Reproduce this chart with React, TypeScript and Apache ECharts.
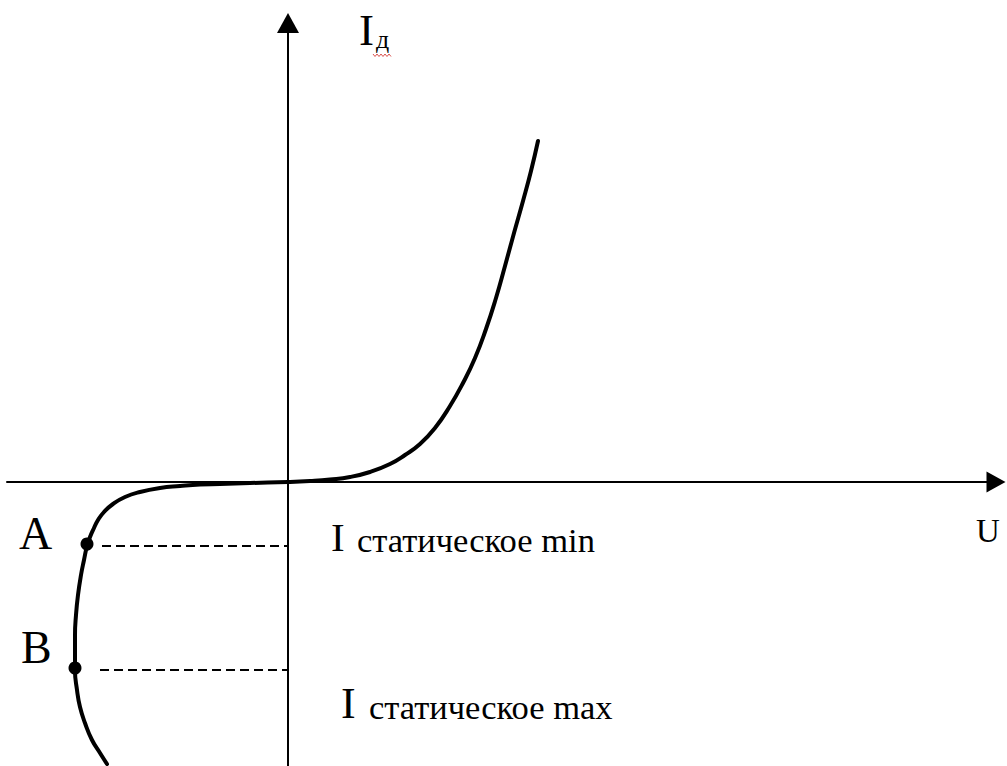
import React, { useEffect, useRef } from "react";
import * as echarts from "echarts";

// Coordinates are in "drawing units" with the origin at the axes crossing.
const xRange: [number, number] = [-281, 708];
const yRange: [number, number] = [-284, 459];

// Reverse branch (from the bottom up to the origin)
const reverseCurve: [number, number][] = [
  [-181, -282],
  [-188, -271],
  [-196, -258],
  [-203, -241],
  [-208, -225],
  [-211, -208],
  [-213, -188],
  [-213, -173],
  [-213, -153],
  [-212, -133],
  [-210, -113],
  [-207, -93],
  [-204, -78],
  [-201, -64],
  [-198, -55],
  [-194, -46],
  [-190, -38],
  [-184, -30],
  [-175, -22],
  [-163, -15],
  [-148, -10],
  [-128, -6],
  [-108, -4],
  [-88, -2.5],
  [-68, -2],
  [-38, -1],
];

// Forward branch (from the origin up to the top)
const forwardCurve: [number, number][] = [
  [0, 0],
  [22, 1],
  [42, 2.5],
  [62, 5],
  [82, 10],
  [102, 18],
  [117, 27],
  [132, 38],
  [147, 54],
  [162, 76],
  [175, 99],
  [187, 124],
  [198, 153],
  [208, 184],
  [217, 216],
  [226, 249],
  [235, 281],
  [243, 311],
  [250, 341],
];

const pointA: [number, number] = [-201, -62];
const pointB: [number, number] = [-213, -186];
const levelA: [number, number][] = [
  [-186, -64],
  [0, -64],
];
const levelB: [number, number][] = [
  [-188, -188],
  [0, -188],
];

const labelYAxis = "I";
const labelYAxisSub = "д";
const labelXAxis = "U";
const labelA = "A";
const labelB = "B";
const labelI = "I";
const labelMin = "статическое min";
const labelMax = "статическое max";

const SERIF = '"Liberation Serif", "Times New Roman", serif';

export default function App() {
  const ref = useRef<HTMLDivElement>(null);

  useEffect(() => {
    if (!ref.current) return;
    const chart = echarts.init(ref.current, undefined, { renderer: "svg" });
    const txt = (text: string, x: number, y: number, size: number) => ({
      type: "text",
      x,
      y,
      silent: true,
      style: {
        text,
        font: `${size}px ${SERIF}`,
        fill: "#000",
        align: "left",
        verticalAlign: "middle",
      },
    });
    const squiggle: number[][] = [];
    for (let i = 0; i <= 9; i++) squiggle.push([373 + i * 2, i % 2 === 0 ? 54 : 56.5]);

    const option: any = {
      animation: false,
      backgroundColor: "#fff",
      grid: { left: 7, right: 11, top: 23, bottom: 0, containLabel: false },
      xAxis: {
        type: "value",
        min: xRange[0],
        max: xRange[1],
        axisLine: {
          show: true,
          onZero: true,
          symbol: ["none", "triangle"],
          symbolSize: [21, 19],
          lineStyle: { color: "#000", width: 2 },
        },
        axisTick: { show: false },
        axisLabel: { show: false },
        splitLine: { show: false },
      },
      yAxis: {
        type: "value",
        min: yRange[0],
        max: yRange[1],
        axisLine: {
          show: true,
          onZero: true,
          symbol: ["none", "triangle"],
          symbolSize: [22, 20],
          lineStyle: { color: "#000", width: 2 },
        },
        axisTick: { show: false },
        axisLabel: { show: false },
        splitLine: { show: false },
      },
      series: [
        {
          type: "line",
          data: [...reverseCurve, ...forwardCurve],
          smooth: 0.5,
          symbol: "none",
          lineStyle: { color: "#000", width: 4, cap: "round", join: "round" },
          z: 5,
        },
        {
          type: "line",
          data: levelA,
          symbol: "none",
          lineStyle: { color: "#000", width: 2, type: [9, 5] },
        },
        {
          type: "line",
          data: levelB,
          symbol: "none",
          lineStyle: { color: "#000", width: 2, type: [9, 5] },
        },
        {
          type: "scatter",
          data: [pointA, pointB],
          symbol: "circle",
          symbolSize: 13,
          itemStyle: { color: "#000", opacity: 1 },
          z: 6,
        },
      ],
      graphic: [
        txt(labelYAxis, 359, 30, 45),
        txt(labelYAxisSub, 376, 39, 26),
        {
          type: "polyline",
          silent: true,
          shape: { points: squiggle },
          style: { stroke: "#d9534f", lineWidth: 1, fill: null },
        },
        txt(labelA, 19, 533, 46),
        txt(labelB, 21, 647, 46),
        txt(labelI, 331, 537, 41),
        txt(labelMin, 357, 540, 34.5),
        txt(labelI, 341, 703, 44),
        txt(labelMax, 369, 707, 34.5),
        txt(labelXAxis, 976, 531, 33),
      ],
    };
    chart.setOption(option);
    return () => chart.dispose();
  }, []);

  return (
    <div
      ref={ref}
      style={{ position: "absolute", left: 0, top: 0, width: 1007, height: 766 }}
    />
  );
}
